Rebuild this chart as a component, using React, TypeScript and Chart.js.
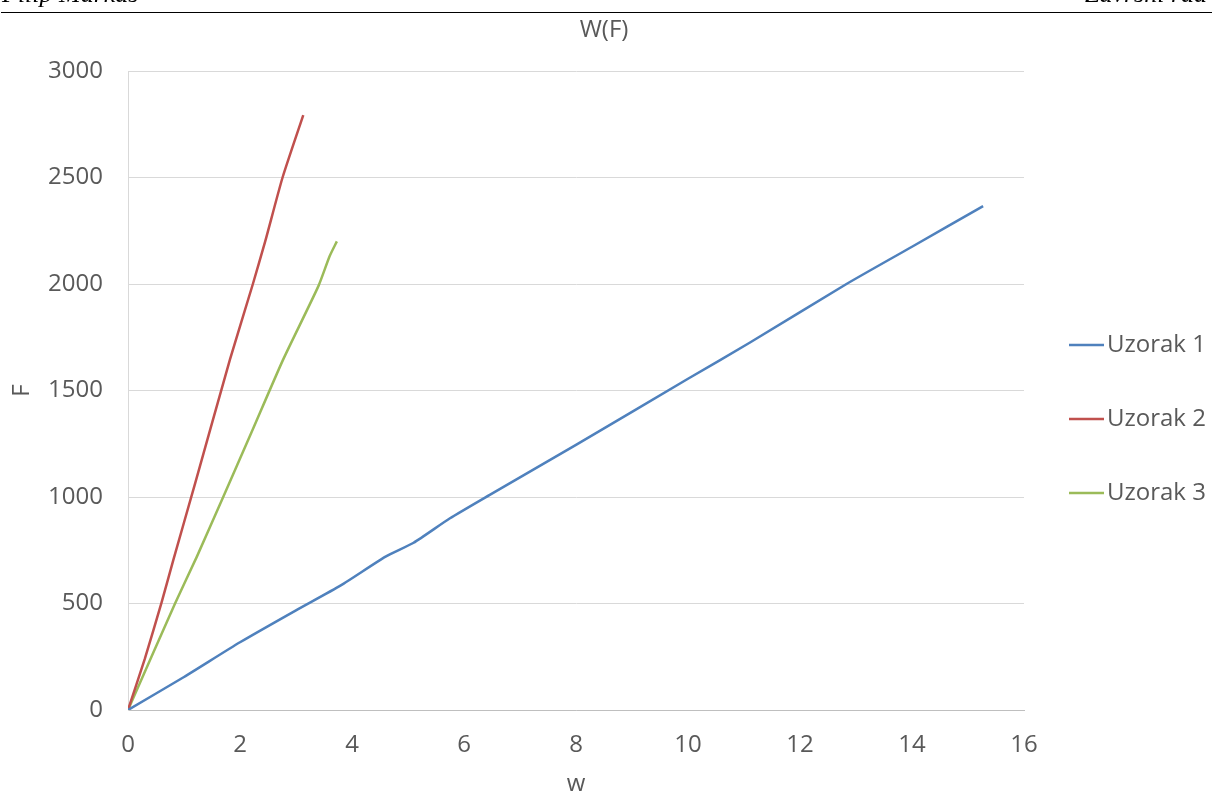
import React, { useEffect, useRef } from "react";
import { Chart, registerables } from "chart.js";

Chart.register(...registerables);

const seriesNames = ["Uzorak 1", "Uzorak 2", "Uzorak 3"];
const seriesColors = ["#4f81bd", "#c0504d", "#9bbb59"];

const u1W = [0, 1, 2, 3, 3.8, 4.6, 5.1, 5.75, 6.46, 8, 10, 11.1, 12.83, 14, 15.27];
const u1F = [0, 155, 318, 468, 585, 720, 785, 900, 1010, 1245, 1555, 1724, 2000, 2175, 2366];

const u2W = [0, 0.3, 0.6, 0.81, 1.2, 1.82, 2.23, 2.45, 2.76, 3.13];
const u2F = [0, 240, 505, 705, 1065, 1645, 2000, 2200, 2500, 2793];

const u3W = [0, 0.84, 1.23, 1.7, 2.2, 2.77, 3.4, 3.6, 3.73];
const u3F = [0, 500, 720, 1000, 1300, 1645, 1990, 2130, 2200];

const chartTitle = "W(F)";
const xTitle = "w";
const yTitle = "F";
const headerLeft = "Filip Markas";
const headerRight = "Završni rad";

const FONT = "'Open Sans', sans-serif";
const TEXT = "#595959";

const overlay = {
  id: "overlay",
  afterDraw(chart: any) {
    const ctx = chart.ctx;
    ctx.save();
    ctx.fillStyle = TEXT;
    ctx.font = `24px ${FONT}`;
    ctx.textAlign = "center";
    ctx.textBaseline = "middle";
    ctx.fillText(chartTitle, 604, 30);
    const ys = [345, 419, 493];
    chart.data.datasets.forEach((ds: any, i: number) => {
      ctx.strokeStyle = ds.borderColor;
      ctx.lineWidth = 2.5;
      ctx.beginPath();
      ctx.moveTo(1069, ys[i]);
      ctx.lineTo(1104, ys[i]);
      ctx.stroke();
      ctx.fillStyle = TEXT;
      ctx.textAlign = "left";
      ctx.fillText(ds.label, 1107, ys[i]);
    });
    ctx.restore();
  },
};

export default function App() {
  const ref = useRef<HTMLCanvasElement>(null);
  useEffect(() => {
    const toPts = (xs: number[], ys: number[]) => xs.map((x, i) => ({ x, y: ys[i] }));
    const data = [toPts(u1W, u1F), toPts(u2W, u2F), toPts(u3W, u3F)];
    const chart = new Chart(ref.current as HTMLCanvasElement, {
      type: "scatter",
      data: {
        datasets: data.map((d, i) => ({
          label: seriesNames[i],
          data: d,
          showLine: true,
          borderColor: seriesColors[i],
          backgroundColor: seriesColors[i],
          borderWidth: 2.5,
          pointRadius: 0,
          tension: 0.2,
        })),
      },
      options: {
        animation: false,
        responsive: false,
        layout: { padding: { left: 0, right: 188, top: 71, bottom: 0 } },
        plugins: { legend: { display: false }, title: { display: false }, tooltip: { enabled: false } },
        scales: {
          x: {
            type: "linear",
            min: 0,
            max: 16,
            ticks: { stepSize: 2, color: TEXT, font: { family: FONT, size: 24 }, padding: 21, callback: (v: any) => String(v) },
            grid: { display: false, drawTicks: false },
            border: { display: true, color: "#bfbfbf", width: 1 },
            title: { display: true, text: xTitle, color: TEXT, font: { family: FONT, size: 24 }, padding: { top: -4, bottom: 0 } },
            afterFit: (s: any) => { s.height = 89; },
          },
          y: {
            type: "linear",
            min: 0,
            max: 3000,
            ticks: { stepSize: 500, color: TEXT, font: { family: FONT, size: 24 }, padding: 25, callback: (v: any) => String(v) },
            grid: { color: "#d9d9d9", lineWidth: 1, drawTicks: false },
            border: { display: true, color: "#d9d9d9", width: 1 },
            title: { display: true, text: yTitle, color: TEXT, font: { family: FONT, size: 24 }, padding: { top: 8, bottom: 2 } },
            afterFit: (s: any) => { s.width = 128; },
          },
        },
      },
      plugins: [overlay],
    });
    return () => chart.destroy();
  }, []);

  return (
    <div style={{ position: "fixed", left: 0, top: 0, width: 1212, height: 799, background: "#fff", overflow: "hidden" }}>
      <canvas ref={ref} width={1212} height={799} style={{ position: "absolute", left: 0, top: 0, width: 1212, height: 799 }} />
      <div style={{ position: "absolute", left: 2, top: -19, font: "italic 26px 'Liberation Serif', serif", lineHeight: "26px", color: "#000", whiteSpace: "nowrap" }}>{headerLeft}</div>
      <div style={{ position: "absolute", right: 5, top: -19, font: "italic 26px 'Liberation Serif', serif", lineHeight: "26px", color: "#000", whiteSpace: "nowrap" }}>{headerRight}</div>
      <div style={{ position: "absolute", left: 1, top: 12, width: 1211, height: 1, background: "#000" }} />
    </div>
  );
}
